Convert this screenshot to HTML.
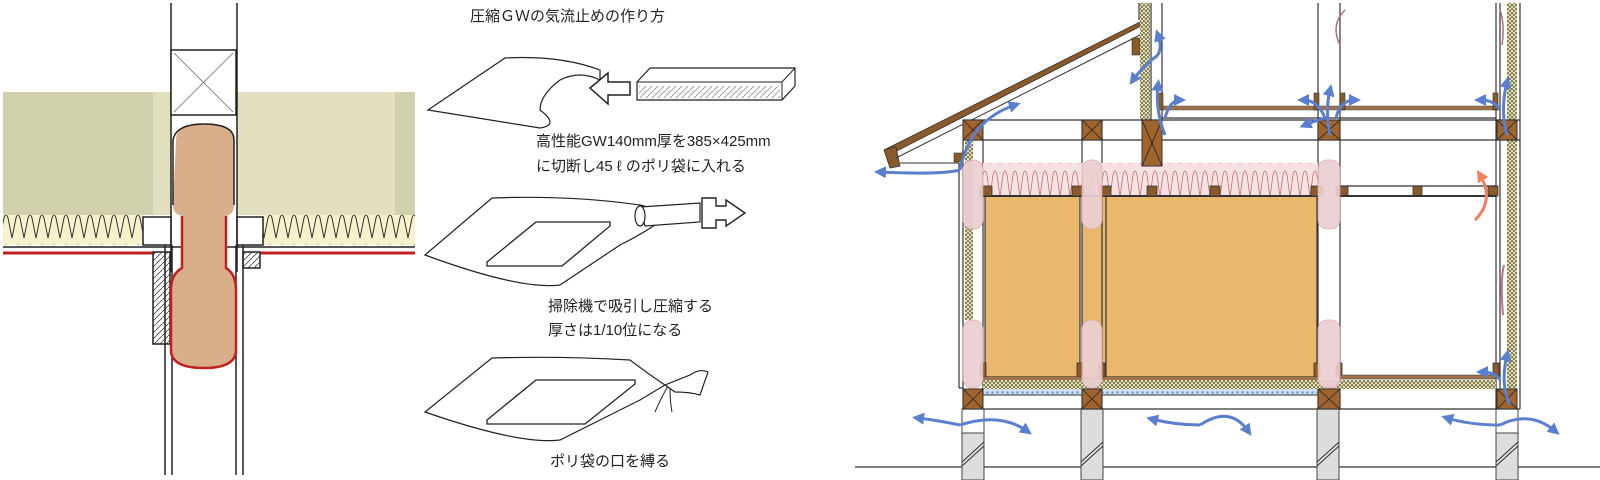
<!DOCTYPE html>
<html><head><meta charset="utf-8"><style>
html,body{margin:0;padding:0;background:#fff;overflow:hidden}
svg{display:block}
text{font-family:"Liberation Sans","Noto Sans CJK JP",sans-serif;fill:#222}
</style></head><body>
<svg width="1600" height="480" viewBox="0 0 1600 480" xmlns="http://www.w3.org/2000/svg">
<defs>
<pattern id="gw" width="12" height="30" patternUnits="userSpaceOnUse">
<rect width="12" height="30" fill="#f6f2cc"/>
<path d="M0,28 L4,8 Q6,2 8,8 L12,28" fill="none" stroke="#333" stroke-width="1"/>
</pattern>
<pattern id="gwr" width="10" height="33" patternUnits="userSpaceOnUse">
<rect width="10" height="33" fill="#f6e2e2"/>
<path d="M0,32 L3,10 Q5,2 7,10 L10,32" fill="none" stroke="#c06060" stroke-width="0.7"/>
</pattern>
<pattern id="hat" width="6" height="6" patternUnits="userSpaceOnUse">
<rect width="6" height="6" fill="#fff"/><path d="M0,6 L6,0" stroke="#444" stroke-width="0.8"/>
</pattern>
<pattern id="yel" width="4" height="4" patternUnits="userSpaceOnUse">
<rect width="4" height="4" fill="#ece6a8"/><path d="M0,0 L2,4 L4,0" fill="none" stroke="#444" stroke-width="0.7"/>
</pattern>
<pattern id="dots" width="5" height="5" patternUnits="userSpaceOnUse">
<rect width="5" height="5" fill="#d0def0"/><circle cx="2.5" cy="2.5" r="1.3" fill="#7aa0d0"/>
</pattern>
<marker id="ab" viewBox="0 0 10 10" refX="5" refY="5" markerWidth="4" markerHeight="4" orient="auto"><path d="M0,0 L10,5 L0,10 z" fill="#5b7fcf"/></marker>
<marker id="ar" viewBox="0 0 10 10" refX="5" refY="5" markerWidth="4" markerHeight="4" orient="auto"><path d="M0,0 L10,5 L0,10 z" fill="#f08060"/></marker>
</defs>

<!-- LEFT PANEL -->
<rect x="3" y="92" width="150" height="123" fill="#d2d1ad"/>
<rect x="153" y="92" width="18" height="123" fill="#e1dfbe"/>
<rect x="237" y="92" width="158" height="123" fill="#e3e0c2"/>
<rect x="395" y="92" width="20" height="123" fill="#d2d1ad"/>
<rect x="3" y="215" width="140" height="30" fill="url(#gw)"/>
<rect x="263" y="215" width="152" height="30" fill="url(#gw)"/>
<rect x="143" y="217" width="28" height="28" fill="#fff" stroke="#222" stroke-width="1.5"/>
<rect x="237" y="217" width="26" height="28" fill="#fff" stroke="#222" stroke-width="1.5"/>
<line x1="3" y1="247" x2="415" y2="247" stroke="#222" stroke-width="1.5"/>
<line x1="3" y1="253" x2="155" y2="253" stroke="#c02020" stroke-width="3"/>
<line x1="258" y1="253" x2="415" y2="253" stroke="#c02020" stroke-width="3"/>
<rect x="153" y="252" width="17" height="92" fill="url(#hat)" stroke="#222" stroke-width="1.5"/>
<rect x="243" y="252" width="17" height="16" fill="url(#hat)" stroke="#222" stroke-width="1.5"/>
<line x1="171" y1="3" x2="171" y2="115" stroke="#222" stroke-width="1.5"/>
<line x1="237" y1="3" x2="237" y2="115" stroke="#222" stroke-width="1.5"/>
<rect x="171" y="50" width="65" height="65" fill="#fff" stroke="#222" stroke-width="1.5"/>
<path d="M174,53 L233,112 M233,53 L174,112" stroke="#666" stroke-width="0.8"/>
<line x1="165" y1="245" x2="165" y2="475" stroke="#222" stroke-width="1.5"/>
<line x1="172" y1="245" x2="172" y2="475" stroke="#222" stroke-width="1.5"/>
<line x1="236" y1="245" x2="236" y2="475" stroke="#222" stroke-width="1.5"/>
<line x1="243" y1="245" x2="243" y2="475" stroke="#222" stroke-width="1.5"/>
<line x1="171" y1="115" x2="171" y2="272" stroke="#222" stroke-width="1.5"/>
<line x1="237" y1="115" x2="237" y2="272" stroke="#222" stroke-width="1.5"/>
<path d="M176,140 Q176,124 204,124 Q234,124 234,140 L234,205 Q234,214 226,216 L226,268 Q236,274 236,290 L236,350 Q236,368 204,368 Q171,368 171,350 L171,290 Q171,274 182,268 L182,216 Q173,214 173,205 Z" fill="#d8ae8b"/>
<path d="M173,205 L173,140 Q176,124 204,124 Q234,124 234,140 L234,205" fill="none" stroke="#222" stroke-width="1.5"/>
<path d="M182,216 L182,268 Q171,274 171,290 L171,350 Q171,368 204,368 Q236,368 236,350 L236,290 Q236,274 226,268 L226,216" fill="none" stroke="#c02020" stroke-width="2.5"/>

<!-- MIDDLE PANEL -->
<text x="470" y="21" font-size="15">圧縮ＧＷの気流止めの作り方</text>
<path d="M428,110 L505,58 Q560,55 600,70 L600,80 Q580,70 560,80 Q540,95 540,110 Q560,125 540,128 L428,110 Z" fill="#fff" stroke="#222" stroke-width="1.2"/>
<path d="M590,88 L608,73 L608,82 L630,82 L630,95 L608,95 L608,104 Z" fill="#fff" stroke="#222" stroke-width="1.5"/>
<path d="M637,82 L650,68 L795,68 L795,86 L782,100 L637,100 Z" fill="#fff" stroke="#222" stroke-width="1.2"/>
<path d="M637,82 L782,82 L795,68 M782,82 L782,100" fill="none" stroke="#222" stroke-width="1"/>
<rect x="639" y="86" width="141" height="12" fill="url(#hat)" opacity="0.6"/>
<text x="536" y="146" font-size="15">高性能GW140mm厚を385×425mm</text>
<text x="536" y="171" font-size="15">に切断し45 ℓ のポリ袋に入れる</text>
<path d="M425,255 L492,198 Q570,195 640,205 Q670,212 655,225 Q640,235 620,245 L560,285 Q520,290 425,255 Z" fill="#fff" stroke="#222" stroke-width="1.2"/>
<path d="M487,262 L536,222 L610,222 L610,226 L562,266 L487,266 Z" fill="#fff" stroke="#222" stroke-width="1.3"/>
<path d="M640,207 L700,203 L700,222 L645,226 Z" fill="#fff" stroke="#222" stroke-width="1.2"/>
<ellipse cx="640" cy="216" rx="5" ry="10" fill="#fff" stroke="#222" stroke-width="1.2"/>
<path d="M702,198 L716,198 L716,206 L726,206 L726,200 L745,213 L726,226 L726,220 L716,220 L716,228 L702,228 Z" fill="#fff" stroke="#222" stroke-width="1.4"/>
<text x="548" y="311" font-size="15">掃除機で吸引し圧縮する</text>
<text x="548" y="335" font-size="15">厚さは1/10位になる</text>
<path d="M425,412 L492,358 Q560,356 630,360 Q650,375 665,385 L640,400 L560,440 Q520,445 425,412 Z" fill="#fff" stroke="#222" stroke-width="1.2"/>
<path d="M487,420 L536,380 L635,380 L635,384 L585,424 L487,424 Z" fill="#fff" stroke="#222" stroke-width="1.3"/>
<path d="M665,385 L690,375 Q700,368 708,372 L700,395 Q690,392 675,392 Z" fill="#fff" stroke="#222" stroke-width="1.2"/>
<path d="M668,386 Q660,400 655,412 M670,388 Q670,402 672,412" fill="none" stroke="#222" stroke-width="1"/>
<text x="550" y="466" font-size="15">ポリ袋の口を縛る</text>

<!-- RIGHT PANEL -->
<line x1="855" y1="467" x2="1600" y2="467" stroke="#555" stroke-width="1.5"/>
<g stroke="#444" stroke-width="1">
<rect x="962" y="409" width="22" height="71" fill="#fff"/>
<rect x="962" y="433" width="22" height="47" fill="#ddd"/>
<rect x="1081" y="409" width="22" height="71" fill="#ddd"/>
<rect x="1317" y="409" width="22" height="71" fill="#ddd"/>
<rect x="1496" y="409" width="22" height="71" fill="#fff"/>
<rect x="1496" y="433" width="22" height="47" fill="#ddd"/>
</g>
<g stroke="#333" stroke-width="1">
<path d="M962,462 L984,442 M962,466 L984,446 M1081,462 L1103,442 M1081,466 L1103,446 M1317,462 L1339,442 M1317,466 L1339,446 M1496,462 L1518,442 M1496,466 L1518,446"/>
</g>
<path d="M884,150 L1140,22 L1141,26 L887,156 Z" fill="#8b5a2b" stroke="#333" stroke-width="0.8"/>
<path d="M884,150 L896,147 L900,166 L890,168 Z" fill="#8b5a2b" stroke="#333" stroke-width="0.8"/>
<path d="M896,158 L1140,35 M900,163 L959,163" fill="none" stroke="#333" stroke-width="1"/>
<rect x="1132" y="38" width="8" height="17" fill="#8b5a2b" stroke="#333" stroke-width="0.6"/>
<rect x="954" y="153" width="9" height="9" fill="#8b5a2b" stroke="#333" stroke-width="0.6"/>
<rect x="1140" y="3" width="10" height="117" fill="url(#yel)"/>
<rect x="965" y="140" width="8" height="180" fill="url(#yel)"/>
<rect x="1507" y="3" width="10" height="386" fill="url(#yel)"/>
<rect x="1082" y="196" width="24" height="184" fill="#e9b86c"/>
<g stroke="#333" stroke-width="1.2" fill="none">
<line x1="1139" y1="3" x2="1139" y2="20"/>
<line x1="1162" y1="3" x2="1162" y2="120"/><line x1="1151" y1="3" x2="1151" y2="120"/>
<line x1="1318" y1="3" x2="1318" y2="409"/><line x1="1340" y1="3" x2="1340" y2="409"/>
<line x1="1496" y1="3" x2="1496" y2="409"/><line x1="1500" y1="3" x2="1500" y2="389"/>
<line x1="1520" y1="3" x2="1520" y2="409"/>
<line x1="959" y1="163" x2="959" y2="388"/><line x1="959" y1="388" x2="963" y2="388"/>
<line x1="963" y1="120" x2="1520" y2="120"/><line x1="963" y1="140" x2="1520" y2="140"/>
<line x1="963" y1="409" x2="1520" y2="409"/>
<line x1="963" y1="140" x2="963" y2="409"/><line x1="983" y1="140" x2="983" y2="389"/>
<line x1="1082" y1="120" x2="1082" y2="409"/><line x1="1102" y1="120" x2="1102" y2="409"/>
<line x1="1162" y1="118" x2="1496" y2="118"/>
</g>
<rect x="1162" y="106" width="334" height="4" fill="#a0724a" stroke="#555" stroke-width="0.5"/>
<g fill="#8b5a2b" stroke="#333" stroke-width="0.6">
<rect x="1158" y="93" width="5" height="17"/><rect x="1314" y="93" width="5" height="17"/><rect x="1340" y="93" width="5" height="17"/><rect x="1493" y="93" width="5" height="17"/>
</g>
<rect x="983" y="163" width="335" height="33" fill="url(#gwr)"/>
<rect x="985" y="196" width="95" height="181" fill="#e9b86c" stroke="#333" stroke-width="1.2"/>
<rect x="1106" y="196" width="211" height="181" fill="#e9b86c" stroke="#333" stroke-width="1.2"/>
<line x1="983" y1="196" x2="1318" y2="196" stroke="#333" stroke-width="2"/>
<g fill="#8b5a2b" stroke="#333" stroke-width="0.8">
<rect x="980" y="186" width="12" height="10"/><rect x="1072" y="186" width="12" height="10"/>
<rect x="1099" y="186" width="12" height="10"/><rect x="1147" y="186" width="10" height="10"/>
<rect x="1210" y="186" width="10" height="10"/><rect x="1311" y="186" width="12" height="10"/>
<rect x="1336" y="186" width="12" height="10"/><rect x="1413" y="186" width="9" height="10"/>
<rect x="1488" y="186" width="10" height="10"/>
<rect x="980" y="363" width="6" height="14"/><rect x="1077" y="363" width="6" height="14"/>
<rect x="1099" y="363" width="6" height="14"/><rect x="1314" y="363" width="6" height="14"/>
<rect x="1336" y="363" width="6" height="14"/><rect x="1493" y="363" width="6" height="14"/>
</g>
<line x1="1340" y1="186" x2="1496" y2="186" stroke="#333" stroke-width="1.2"/>
<line x1="1340" y1="196" x2="1496" y2="196" stroke="#333" stroke-width="2"/>
<rect x="983" y="377" width="335" height="3" fill="#a0724a"/>
<rect x="983" y="380" width="513" height="9" fill="url(#yel)"/>
<rect x="1340" y="375" width="156" height="4" fill="#a0724a" stroke="#333" stroke-width="0.5"/>
<rect x="983" y="389" width="335" height="6" fill="url(#dots)"/>
<line x1="983" y1="395" x2="1318" y2="395" stroke="#333"/>
<g fill="#a0652e" stroke="#333" stroke-width="1">
<rect x="963" y="120" width="20" height="20"/><rect x="1082" y="120" width="20" height="20"/>
<rect x="1142" y="120" width="20" height="46"/><rect x="1318" y="120" width="22" height="20"/>
<rect x="1497" y="120" width="20" height="20"/>
<rect x="963" y="389" width="20" height="20"/><rect x="1082" y="389" width="20" height="20"/>
<rect x="1318" y="389" width="22" height="20"/><rect x="1497" y="389" width="20" height="20"/>
</g>
<g stroke="#222" stroke-width="0.8">
<path d="M963,120 L983,140 M983,120 L963,140 M1082,120 L1102,140 M1102,120 L1082,140 M1142,120 L1162,166 M1162,120 L1142,166 M1318,120 L1340,140 M1340,120 L1318,140 M1497,120 L1517,140 M1517,120 L1497,140"/>
<path d="M963,389 L983,409 M983,389 L963,409 M1082,389 L1102,409 M1102,389 L1082,409 M1318,389 L1340,409 M1340,389 L1318,409 M1497,389 L1517,409 M1517,389 L1497,409"/>
</g>
<g fill="#eccfd2" stroke="#d8a8aa" stroke-width="0.8" opacity="0.92">
<rect x="963" y="160" width="20" height="69" rx="9"/><rect x="1082" y="160" width="20" height="69" rx="9"/><rect x="1318" y="160" width="22" height="69" rx="9"/>
<rect x="963" y="320" width="20" height="68" rx="9"/><rect x="1082" y="320" width="20" height="68" rx="9"/><rect x="1318" y="320" width="22" height="68" rx="9"/>
</g>
<g fill="none" stroke="#5b7fcf" stroke-width="3" marker-end="url(#ab)">
<path d="M960,170 Q970,120 1015,105"/>
<path d="M960,170 Q940,175 880,172"/>
<path d="M1150,60 Q1165,55 1158,35"/>
<path d="M1152,60 Q1140,70 1133,80"/>
<path d="M1165,135 Q1155,110 1158,85"/>
<path d="M1165,118 Q1170,100 1180,100"/>
<path d="M1330,135 Q1325,110 1330,90"/>
<path d="M1325,118 Q1318,100 1303,100"/>
<path d="M1336,118 Q1340,100 1355,100"/>
<path d="M1325,118 Q1312,122 1305,125"/>
<path d="M1507,135 Q1500,110 1507,82"/>
<path d="M1500,110 Q1495,100 1480,100"/>
<path d="M1510,405 Q1500,385 1507,355"/>
<path d="M1500,380 Q1495,372 1482,372"/>
<path d="M960,425 Q935,420 918,418"/>
<path d="M960,425 Q1000,412 1027,431"/>
<path d="M1200,425 Q1175,425 1152,419"/>
<path d="M1200,425 Q1230,405 1248,431"/>
<path d="M1500,425 Q1470,425 1447,418"/>
<path d="M1500,425 Q1530,410 1555,431"/>
</g>
<path d="M1475,220 Q1495,200 1480,175" fill="none" stroke="#f08060" stroke-width="3" marker-end="url(#ar)"/>
<path d="M1345,10 Q1330,25 1340,45" fill="none" stroke="#b07080" stroke-width="1.5"/>
<path d="M1500,10 Q1505,25 1502,45" fill="none" stroke="#b07080" stroke-width="1.5"/>
<path d="M1504,265 Q1500,280 1503,315" fill="none" stroke="#c07080" stroke-width="2"/>
</svg>
</body></html>
